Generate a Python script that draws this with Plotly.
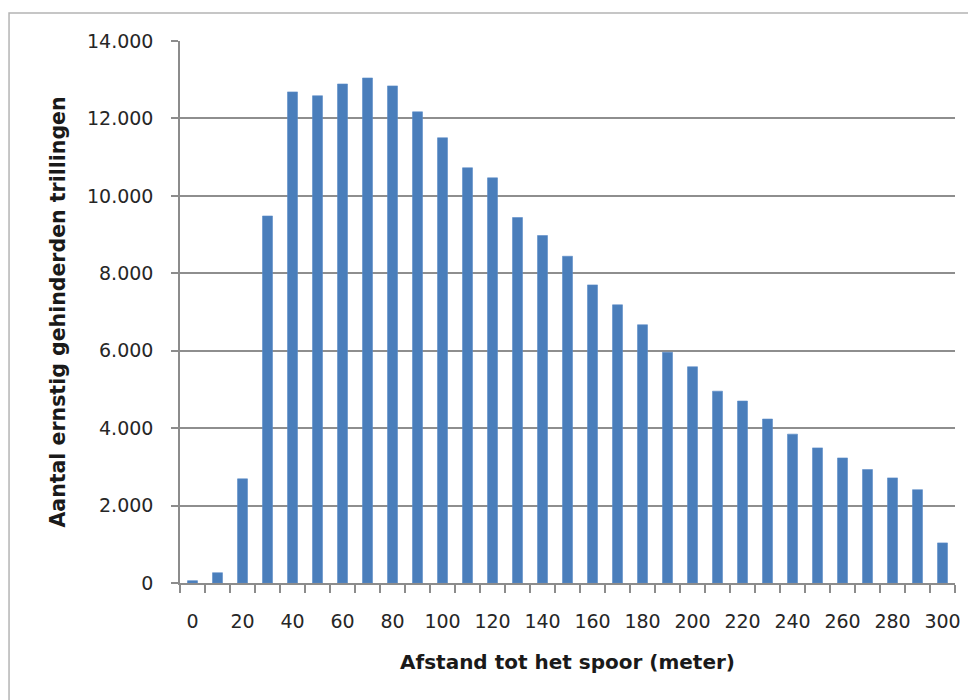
import plotly.graph_objects as go

afstand = [0, 10, 20, 30, 40, 50, 60, 70, 80, 90, 100, 110, 120, 130, 140, 150,
           160, 170, 180, 190, 200, 210, 220, 230, 240, 250, 260, 270, 280, 290, 300]
gehinderden = [60, 265, 2690, 9480, 12685, 12585, 12890, 13045, 12840, 12170, 11500,
               10725, 10465, 9440, 8975, 8440, 7700, 7185, 6670, 5960, 5585, 4955,
               4700, 4235, 3845, 3490, 3230, 2930, 2715, 2410, 1035]
x_ticks = [0, 20, 40, 60, 80, 100, 120, 140, 160, 180, 200, 220, 240, 260, 280, 300]
y_ticks = [0, 2000, 4000, 6000, 8000, 10000, 12000, 14000]

x_title = "Afstand tot het spoor (meter)"
y_title = "Aantal ernstig gehinderden trillingen"

FONT = "DejaVu Sans"
GRID = "#8e8e8e"
AXIS = "#8c8c8c"
TXT = "#262626"

fig = go.Figure()
fig.add_trace(go.Bar(
    x=afstand, y=gehinderden, width=4,
    marker=dict(color="#4a7ebb", line=dict(color="#5a8cc8", width=0.6)),
    hoverinfo="x+y",
))

fig.update_layout(
    width=968, height=692,
    margin=dict(l=172, r=21, t=33, b=117),
    paper_bgcolor="white", plot_bgcolor="white",
    separators=",.",
    showlegend=False,
    font=dict(family=FONT, size=19, color=TXT),
    shapes=[dict(type="rect", xref="paper", yref="paper",
                 x0=-0.2206, x1=1.2, y0=-0.4, y1=1.0517,
                 line=dict(color="#b4b4b4", width=1.5), fillcolor="rgba(0,0,0,0)",
                 layer="below")],
)

fig.update_xaxes(
    range=[-5, 305],
    tickmode="array", tickvals=x_ticks,
    ticks="", ticklabelstandoff=20,
    tickfont=dict(family=FONT, size=19, color=TXT),
    minor=dict(tick0=-5, dtick=10, ticks="outside", ticklen=8,
               tickcolor=AXIS, tickwidth=1.5, showgrid=False),
    showline=True, linecolor=AXIS, linewidth=1.5,
    showgrid=False, zeroline=False,
    title=dict(text=x_title, standoff=24,
               font=dict(family=FONT, size=20, color="#1a1a1a", weight="bold")),
)

fig.update_yaxes(
    range=[0, 14000],
    tickmode="array", tickvals=y_ticks,
    tickformat=",d",
    ticks="outside", ticklen=7, tickcolor=AXIS, tickwidth=1.5,
    ticklabelstandoff=14,
    tickfont=dict(family=FONT, size=19, color=TXT),
    showline=True, linecolor=AXIS, linewidth=1.5,
    showgrid=True, gridcolor=GRID, gridwidth=1.6,
    zeroline=False,
    title=dict(text=y_title, standoff=16,
               font=dict(family=FONT, size=20.5, color="#1a1a1a", weight="bold")),
)

fig.write_html("out.html")
